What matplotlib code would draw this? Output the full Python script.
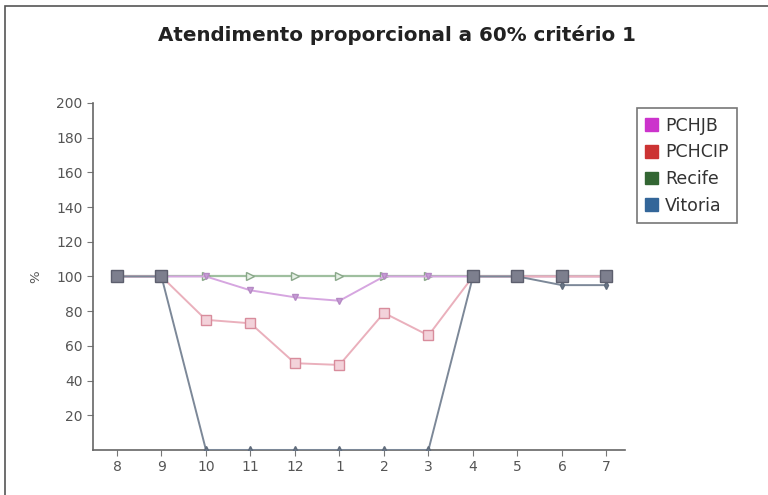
import matplotlib
matplotlib.use("Agg")
import matplotlib.pyplot as plt
from matplotlib.patches import Rectangle, Patch

months = ["8", "9", "10", "11", "12", "1", "2", "3", "4", "5", "6", "7"]
pchjb = [100, 100, 100, 92, 88, 86, 100, 100, 100, 100, 100, 100]
pchcip = [100, 100, 75, 73, 50, 49, 79, 66, 100, 100, 100, 100]
recife = [100, 100, 100, 100, 100, 100, 100, 100, 100, 100, 100, 100]
vitoria = [100, 100, 0, 0, 0, 0, 0, 0, 100, 100, 95, 95]

series_names = ["PCHJB", "PCHCIP", "Recife", "Vitoria"]
legend_colors = ["#cc33cc", "#cc3333", "#336633", "#336699"]

fig = plt.figure(figsize=(7.68, 4.95), dpi=100)
fig.patch.set_facecolor("white")
fig.add_artist(Rectangle((0.007, -0.01), 1.0, 0.998, transform=fig.transFigure,
                         fill=False, edgecolor="#555555", linewidth=1.2))

ax = fig.add_axes([0.121, 0.091, 0.693, 0.701])
x = list(range(len(months)))

ax.plot(x, recife, color="#9fbf9f", lw=1.6, marker=">", ms=6,
        mfc="#e6f0e6", mec="#8aa88a", zorder=2)
ax.plot(x, pchjb, color="#d6a6e0", lw=1.4, marker="v", ms=4,
        mfc="#c79ad6", mec="#b58ac4", zorder=3)
ax.plot(x, pchcip, color="#eab0bc", lw=1.4, marker="s", ms=7,
        mfc="#f3d2da", mec="#d88c9c", zorder=4)
ax.plot(x, vitoria, color="#7c8898", lw=1.4, marker="d", ms=4,
        mfc="#6a7686", mec="#5f6b7b", zorder=5)
# Squares where all series share the 100 % level
shared = [i for i in x if pchjb[i] == pchcip[i] == recife[i] == 100]
ax.plot(shared, [100] * len(shared), ls="none", marker="s", ms=8,
        mfc="#7d7f8e", mec="#5d5f6e", zorder=6)

ax.set_xlim(-0.54, 11.42)
ax.set_ylim(0, 200)
ax.set_xticks(x)
ax.set_xticklabels(months)
ax.set_yticks(range(20, 201, 20))
for s in ["top", "right"]:
    ax.spines[s].set_visible(False)
for s in ["left", "bottom"]:
    ax.spines[s].set_color("#666666")
    ax.spines[s].set_linewidth(1.2)
ax.tick_params(axis="both", colors="#777777", labelcolor="#555555",
               labelsize=10, length=4)
ax.set_ylabel("%", rotation=90, color="#555555", fontsize=9.5, labelpad=10)

fig.text(0.517, 0.93, "Atendimento proporcional a 60% critério 1",
         ha="center", va="center", fontsize=14.3, fontweight="bold",
         color="#222222")

handles = [Patch(facecolor=c, edgecolor=c) for c in legend_colors]
leg = fig.legend(handles, series_names, loc="upper left",
                 bbox_to_anchor=(0.829, 0.782), borderaxespad=0,
                 frameon=True, fancybox=False,
                 edgecolor="#555555", fontsize=12.5, handlelength=0.75,
                 handleheight=0.75, handletextpad=0.4, labelspacing=0.5,
                 borderpad=0.5)
leg.get_frame().set_linewidth(1.2)
for t in leg.get_texts():
    t.set_color("#333333")

fig.savefig("out.png", dpi=100)
